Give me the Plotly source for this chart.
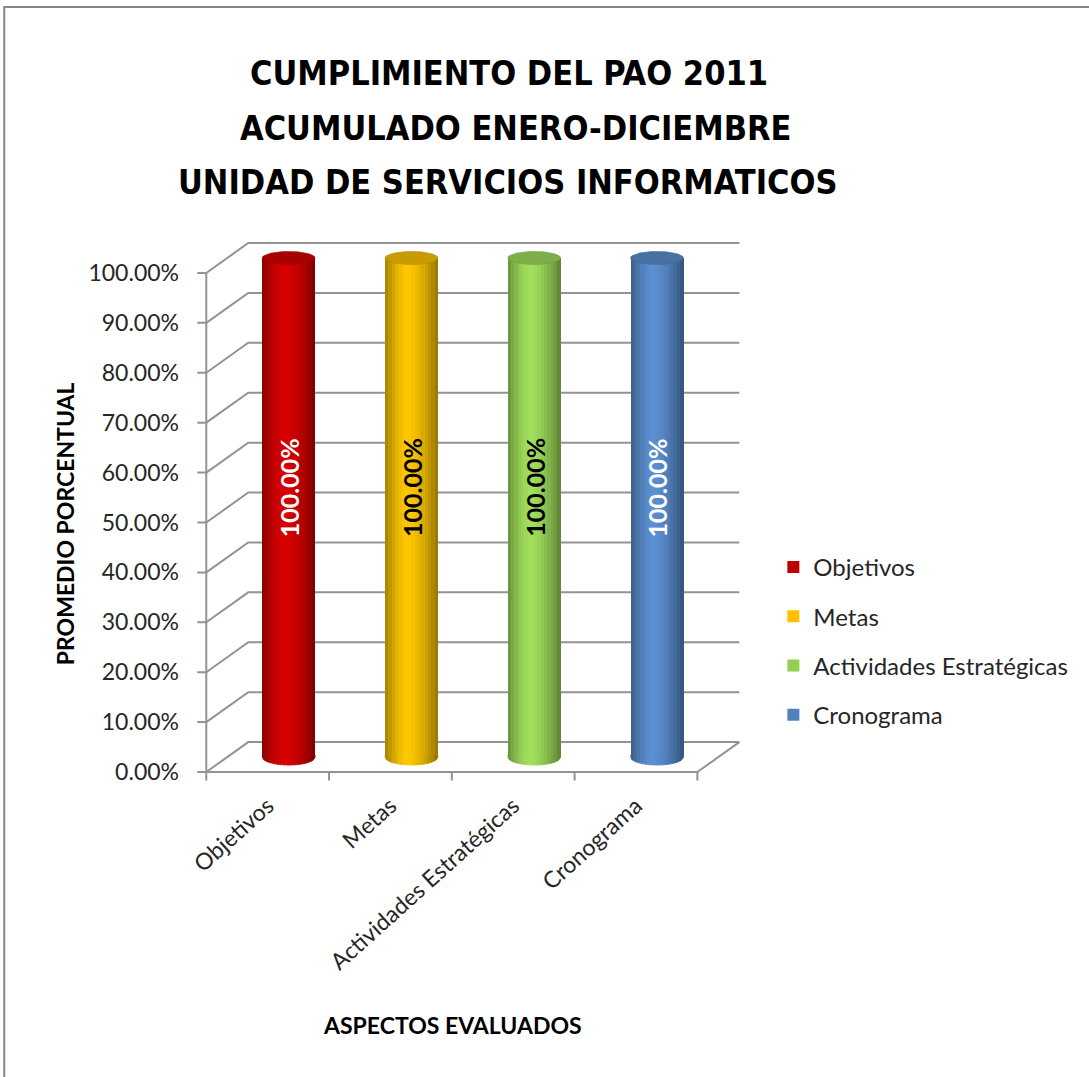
import numpy as np
import plotly.graph_objects as go

# ---- data -------------------------------------------------------------
categories = ["Objetivos", "Metas", "Actividades Estratégicas", "Cronograma"]
values = [1.0, 1.0, 1.0, 1.0]
series_colors = ["#C00000", "#FFC000", "#92D050", "#4F81BD"]
highlight_colors = ["#D80000", "#FFC800", "#A2E05C", "#5C90D2"]
label_colors = ["white", "black", "black", "white"]
y_ticks = [0.0, 0.1, 0.2, 0.3, 0.4, 0.5, 0.6, 0.7, 0.8, 0.9, 1.0]

title_lines = ["CUMPLIMIENTO DEL PAO 2011", "ACUMULADO ENERO-DICIEMBRE", "UNIDAD DE SERVICIOS INFORMATICOS"]
y_title = "PROMEDIO PORCENTUAL"
x_title = "ASPECTOS EVALUADOS"

# ---- geometry of the pseudo-3D frame ---------------------------------
W, H = 1089, 1077
X0_PX, XS = 206.0, 122.75      # pixel of x=-0.5 and pixels per x unit
Y0_PX, YS = 772.0, 499.0       # pixel of y=0 and pixels per y unit
DX, DY = 0.342, 0.060          # depth offset of the back wall
xr = [-0.6, 3.88]
yr = [-0.03, 1.07]

m_l = X0_PX + (xr[0] + 0.5) * XS
m_r = W - (X0_PX + (xr[1] + 0.5) * XS)
m_t = Y0_PX - yr[1] * YS
m_b = H - (Y0_PX - yr[0] * YS)
pw = W - m_l - m_r
ph = H - m_t - m_b


def xp(px):
    return (px - m_l) / pw


def yp(py):
    return ((H - m_b) - py) / ph


def hex_rgb(h):
    h = h.lstrip("#")
    return [int(h[i:i + 2], 16) for i in (0, 2, 4)]


def shade(h, f):
    r, g, b = hex_rgb(h)
    return "rgb(%d,%d,%d)" % (min(255, r * f), min(255, g * f), min(255, b * f))


def profile(t):
    peak = 0.42
    if t < peak:
        return 1 - 0.36 * ((peak - t) / peak) ** 1.6
    return 1 - 0.42 * ((t - peak) / (1 - peak)) ** 1.6


GRID = "#939393"
TEXT = "#262626"
FONT = "Lato, sans-serif"
TITLE_FONT = "'DejaVu Sans Condensed', 'Liberation Sans Narrow', sans-serif"
n = len(categories)
centers = [i + DX / 2 for i in range(n)]
base = DY / 2
CW = 0.43                      # cylinder diameter in x units
R = CW / 2
EH_TOP, EH_BOT = 0.013, 0.016
NB = 16
bw = CW / NB

fig = go.Figure()

# main bars (carry the legend)
for i in range(n):
    fig.add_trace(go.Bar(
        x=[centers[i]], y=[values[i]], base=[base], width=[CW],
        marker=dict(color=series_colors[i], line=dict(width=0)),
        name=categories[i], legendgroup=categories[i],
        hoverinfo="skip"))

# cylindrical shading bands
for k in range(NB):
    tc = (k + 0.5) / NB
    fig.add_trace(go.Bar(
        x=centers, y=values, base=[base] * n,
        width=[bw * 1.08] * n, offset=[-R + k * bw] * n,
        marker=dict(color=[shade(c, profile(tc)) for c in highlight_colors], line=dict(width=0)),
        showlegend=False, hoverinfo="skip"))

# rounded bottoms of the cylinders
for i in range(n):
    cx = centers[i]
    for k in range(NB):
        tc = (k + 0.5) / NB
        xa = cx - R + k * bw
        xb = min(cx + R, xa + bw * 1.1)
        xs = np.linspace(xa, xb, 6)
        ys = base - EH_BOT * np.sqrt(np.clip(1 - ((xs - cx) / R) ** 2, 0, 1))
        fig.add_trace(go.Scatter(
            x=[xa] + list(xs) + [xb], y=[base + 0.004] + list(ys) + [base + 0.004],
            mode="lines", fill="toself", fillcolor=shade(highlight_colors[i], profile(tc)),
            line=dict(width=0.8, color=shade(highlight_colors[i], profile(tc))),
            showlegend=False, hoverinfo="skip"))

# top caps
theta = np.linspace(0, 2 * np.pi, 73)
for i in range(n):
    cx = centers[i]
    top = base + values[i]
    fig.add_trace(go.Scatter(
        x=cx + R * np.cos(theta), y=top + EH_TOP * np.sin(theta),
        mode="lines", fill="toself", fillcolor=shade(highlight_colors[i], 0.78),
        line=dict(width=0.6, color=shade(highlight_colors[i], 0.7)),
        showlegend=False, hoverinfo="skip"))

# walls, floor and tick marks
grid_path = ""
for v in y_ticks:
    grid_path += f"M {-0.5},{v} L {-0.5 + DX},{v + DY} L {n - 0.5 + DX},{v + DY} "
floor_path = f"M {-0.5},0 L {n - 0.5},0 L {n - 0.5 + DX},{DY} M {-0.5},0 L {-0.5},{y_ticks[-1]}"
tick_path = "".join(f"M {-0.5 - 0.073},{v} L {-0.5},{v} " for v in y_ticks)
tick_path += "".join(f"M {b},0 L {b},-0.017 " for b in np.arange(-0.5, n, 1.0))
shapes = [
    dict(type="path", path=p, xref="x", yref="y", layer="below",
         line=dict(color=GRID, width=2))
    for p in (grid_path, floor_path, tick_path)
]
# outer chart border
shapes.append(dict(type="rect", xref="paper", yref="paper",
                   x0=xp(4), x1=xp(1120), y0=yp(1110), y1=yp(7),
                   line=dict(color="#878787", width=2)))

annotations = []
# three-line chart heading
for line, cx_px, cy_px in zip(title_lines, [509, 515, 508], [73, 128, 182]):
    annotations.append(dict(
        x=xp(cx_px), y=yp(cy_px), xref="paper", yref="paper",
        xanchor="center", yanchor="middle", text=line, showarrow=False,
        font=dict(family=TITLE_FONT, size=34, color="black", weight="bold")))
for i in range(n):
    annotations.append(dict(
        x=centers[i], y=base + values[i] * 0.54, xref="x", yref="y",
        xanchor="center", yanchor="middle",
        text=f"{values[i] * 100:.2f}%", textangle=-90, showarrow=False,
        font=dict(family=FONT, size=25, color=label_colors[i], weight="bold")))
annotations.append(dict(
    x=xp(65), y=yp(524), xref="paper", yref="paper", xanchor="center", yanchor="middle",
    text=y_title, textangle=-90, showarrow=False,
    font=dict(family=FONT, size=23, color="black", weight="bold")))
annotations.append(dict(
    x=xp(452), y=yp(1025), xref="paper", yref="paper", xanchor="center", yanchor="middle",
    text=x_title, showarrow=False,
    font=dict(family=FONT, size=23, color="black", weight="bold")))

fig.update_layout(
    width=W, height=H,
    margin=dict(l=m_l, r=m_r, t=m_t, b=m_b, autoexpand=False),
    paper_bgcolor="white", plot_bgcolor="white",
    barmode="overlay", bargap=0,
    xaxis=dict(range=xr, tickvals=list(range(n)), ticktext=categories, tickangle=-42,
               ticks="", showgrid=False, zeroline=False, showline=False,
               ticklabelstandoff=0,
               tickfont=dict(family=FONT, size=23, color=TEXT)),
    yaxis=dict(range=yr, tickvals=y_ticks, tickformat=".2%", ticks="",
               showgrid=False, zeroline=False, showline=False, ticklabelstandoff=14,
               tickfont=dict(family=FONT, size=23, color=TEXT)),
    legend=dict(x=xp(773), y=yp(545), xanchor="left", yanchor="top",
                font=dict(family=FONT, size=24, color=TEXT),
                itemwidth=30, tracegroupgap=15, bgcolor="rgba(0,0,0,0)"),
    shapes=shapes, annotations=annotations,
)

fig.write_html("out.html")
